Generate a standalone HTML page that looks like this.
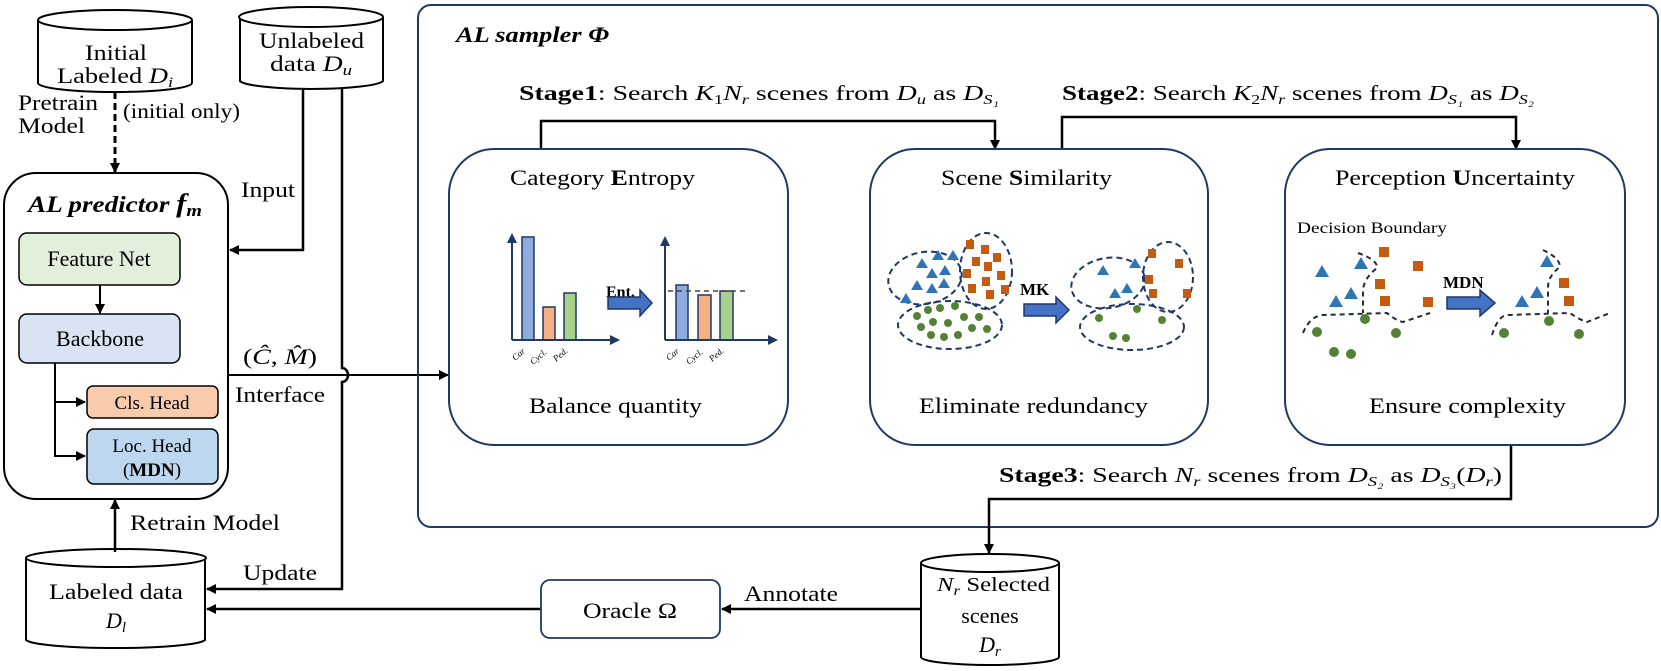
<!DOCTYPE html>
<html><head><meta charset="utf-8"><style>
html,body{margin:0;padding:0;background:#fff}
svg{display:block}
text{font-family:"Liberation Serif",serif;fill:#000}
</style></head><body>
<svg width="1661" height="671" viewBox="0 0 1661 671" xmlns="http://www.w3.org/2000/svg">
<defs>
<marker id="ah" markerWidth="10" markerHeight="10" refX="9" refY="5" orient="auto" markerUnits="userSpaceOnUse"><path d="M0,0 L10,5 L0,10 z" fill="#000"/></marker>
<marker id="nav" markerWidth="10" markerHeight="10" refX="5" refY="5" orient="auto" markerUnits="userSpaceOnUse"><path d="M0,0 L10,5 L0,10 z" fill="#1f3864"/></marker>
</defs>

<!-- Cylinders -->
<g fill="#fff" stroke="#000" stroke-width="2">
<path d="M38,20 L38,83 A77,9 0 0 0 192,83 L192,20"/><ellipse cx="115" cy="20" rx="77" ry="10"/>
<path d="M240,17 L240,81 A72,9 0 0 0 383,81 L383,17"/><ellipse cx="311" cy="17" rx="72" ry="10"/>
<path d="M26,558 L26,640 A90,9 0 0 0 205,640 L205,558"/><ellipse cx="116" cy="558" rx="90" ry="9"/>
<path d="M921,563 L921,657 A69,8 0 0 0 1059,657 L1059,563"/><ellipse cx="990" cy="563" rx="69" ry="9"/>
</g>
<text x="85" y="60" font-size="22" textLength="62" lengthAdjust="spacingAndGlyphs">Initial</text>
<text x="57" y="83" font-size="22" textLength="116" lengthAdjust="spacingAndGlyphs">Labeled <tspan font-style="italic">D</tspan><tspan font-style="italic" font-size="15" dy="4">i</tspan></text>
<text x="259" y="48" font-size="22" textLength="105" lengthAdjust="spacingAndGlyphs">Unlabeled</text>
<text x="270" y="71" font-size="22" textLength="82" lengthAdjust="spacingAndGlyphs">data <tspan font-style="italic">D</tspan><tspan font-style="italic" font-size="15" dy="4">u</tspan></text>
<text x="49" y="599" font-size="22" textLength="134" lengthAdjust="spacingAndGlyphs">Labeled data</text>
<text x="116" y="628" font-size="22" text-anchor="middle" font-style="italic">D<tspan font-size="15" dy="4">l</tspan></text>
<text x="937" y="591" font-size="20" textLength="113" lengthAdjust="spacingAndGlyphs"><tspan font-style="italic">N</tspan><tspan font-style="italic" font-size="14" dy="4">r</tspan><tspan dy="-4"> Selected</tspan></text>
<text x="990" y="623" font-size="22" text-anchor="middle">scenes</text>
<text x="990" y="652" font-size="22" text-anchor="middle" font-style="italic">D<tspan font-size="15" dy="4">r</tspan></text>

<!-- Pretrain -->
<text x="18" y="110" font-size="22" textLength="80" lengthAdjust="spacingAndGlyphs">Pretrain</text>
<text x="18" y="133" font-size="22" textLength="67" lengthAdjust="spacingAndGlyphs">Model</text>
<line x1="115" y1="92" x2="115" y2="172" stroke="#000" stroke-width="3" stroke-dasharray="7,4" marker-end="url(#ah)"/>
<text x="123" y="118" font-size="21" textLength="117" lengthAdjust="spacingAndGlyphs">(initial only)</text>

<!-- AL predictor -->
<rect x="4" y="173" width="224" height="326" rx="32" fill="#fff" stroke="#000" stroke-width="2"/>
<text x="28" y="212" font-size="23" font-weight="bold" font-style="italic" textLength="174" lengthAdjust="spacingAndGlyphs">AL predictor <tspan font-size="26">f</tspan><tspan font-size="17" dy="4">m</tspan></text>
<rect x="19" y="233" width="161" height="52" rx="8" fill="#e2efda" stroke="#000" stroke-width="1.5"/>
<text x="99" y="266" font-size="22" text-anchor="middle">Feature Net</text>
<line x1="100" y1="285" x2="100" y2="313" stroke="#000" stroke-width="2" marker-end="url(#ah)"/>
<rect x="19" y="314" width="161" height="49" rx="8" fill="#dae3f3" stroke="#000" stroke-width="1.5"/>
<text x="100" y="346" font-size="22" text-anchor="middle">Backbone</text>
<polyline points="55,363 55,456 85,456" fill="none" stroke="#000" stroke-width="2" marker-end="url(#ah)"/>
<line x1="55" y1="402" x2="85" y2="402" stroke="#000" stroke-width="2" marker-end="url(#ah)"/>
<rect x="87" y="386" width="131" height="32" rx="6" fill="#f8cbad" stroke="#000" stroke-width="1.5"/>
<text x="152" y="409" font-size="19" text-anchor="middle">Cls. Head</text>
<rect x="87" y="429" width="131" height="55" rx="7" fill="#bdd7ee" stroke="#000" stroke-width="1.5"/>
<text x="152" y="452" font-size="19" text-anchor="middle">Loc. Head</text>
<text x="152" y="476" font-size="19" text-anchor="middle">(<tspan font-weight="bold">MDN</tspan>)</text>

<!-- Input / update lines -->
<polyline points="303,89 303,250 230,250" fill="none" stroke="#000" stroke-width="2.5" marker-end="url(#ah)"/>
<text x="241" y="197" font-size="22" textLength="54" lengthAdjust="spacingAndGlyphs">Input</text>
<path d="M342,89 L342,368 A6,7 0 0 1 342,382 L342,589 L207,589" fill="none" stroke="#000" stroke-width="2.5" marker-end="url(#ah)"/>
<text x="243" y="580" font-size="22" textLength="74" lengthAdjust="spacingAndGlyphs">Update</text>
<line x1="228" y1="375" x2="448" y2="375" stroke="#000" stroke-width="2" marker-end="url(#ah)"/>
<text x="243" y="364" font-size="22" textLength="74" lengthAdjust="spacingAndGlyphs">(<tspan font-style="italic">Ĉ</tspan>, <tspan font-style="italic">M̂</tspan>)</text>
<text x="235" y="402" font-size="22" textLength="90" lengthAdjust="spacingAndGlyphs">Interface</text>
<line x1="115" y1="552" x2="115" y2="500" stroke="#000" stroke-width="2.5" marker-end="url(#ah)"/>
<text x="130" y="530" font-size="22" textLength="150" lengthAdjust="spacingAndGlyphs">Retrain Model</text>

<!-- bottom -->
<line x1="541" y1="609" x2="207" y2="609" stroke="#000" stroke-width="2.5" marker-end="url(#ah)"/>
<rect x="541" y="580" width="179" height="58" rx="9" fill="#fff" stroke="#1f3864" stroke-width="1.8"/>
<text x="583" y="618" font-size="22" textLength="94" lengthAdjust="spacingAndGlyphs">Oracle Ω</text>
<line x1="921" y1="609" x2="722" y2="609" stroke="#000" stroke-width="2.5" marker-end="url(#ah)"/>
<text x="744" y="601" font-size="22" textLength="94" lengthAdjust="spacingAndGlyphs">Annotate</text>

<!-- AL sampler -->
<rect x="418" y="5" width="1240" height="522" rx="13" fill="none" stroke="#1f3864" stroke-width="2"/>
<text x="456" y="42" font-size="22" font-weight="bold" font-style="italic" textLength="153" lengthAdjust="spacingAndGlyphs">AL sampler Φ</text>
<text x="519" y="100" font-size="21" textLength="480" lengthAdjust="spacingAndGlyphs"><tspan font-weight="bold">Stage1</tspan>: Search <tspan font-style="italic">K</tspan><tspan font-size="14" dy="4">1</tspan><tspan font-style="italic" dy="-4">N</tspan><tspan font-style="italic" font-size="14" dy="4">r</tspan><tspan dy="-4"> scenes from </tspan><tspan font-style="italic">D</tspan><tspan font-style="italic" font-size="14" dy="4">u</tspan><tspan dy="-4"> as </tspan><tspan font-style="italic">D</tspan><tspan font-style="italic" font-size="14" dy="4">S₁</tspan></text>
<text x="1062" y="100" font-size="21" textLength="472" lengthAdjust="spacingAndGlyphs"><tspan font-weight="bold">Stage2</tspan>: Search <tspan font-style="italic">K</tspan><tspan font-size="14" dy="4">2</tspan><tspan font-style="italic" dy="-4">N</tspan><tspan font-style="italic" font-size="14" dy="4">r</tspan><tspan dy="-4"> scenes from </tspan><tspan font-style="italic">D</tspan><tspan font-style="italic" font-size="14" dy="4">S₁</tspan><tspan dy="-4"> as </tspan><tspan font-style="italic">D</tspan><tspan font-style="italic" font-size="14" dy="4">S₂</tspan></text>
<polyline points="541,150 541,121 995,121 995,149" fill="none" stroke="#000" stroke-width="2.5" marker-end="url(#ah)"/>
<polyline points="1062,150 1062,117 1516,117 1516,149" fill="none" stroke="#000" stroke-width="2.5" marker-end="url(#ah)"/>
<text x="999" y="482" font-size="21" textLength="503" lengthAdjust="spacingAndGlyphs"><tspan font-weight="bold">Stage3</tspan>: Search <tspan font-style="italic">N</tspan><tspan font-style="italic" font-size="14" dy="4">r</tspan><tspan dy="-4"> scenes from </tspan><tspan font-style="italic">D</tspan><tspan font-style="italic" font-size="14" dy="4">S₂</tspan><tspan dy="-4"> as  </tspan><tspan font-style="italic">D</tspan><tspan font-style="italic" font-size="14" dy="4">S₃</tspan><tspan dy="-4">(</tspan><tspan font-style="italic">D</tspan><tspan font-style="italic" font-size="14" dy="4">r</tspan><tspan dy="-4">)</tspan></text>
<polyline points="1511,445 1511,499 989,499 989,553" fill="none" stroke="#000" stroke-width="2.5" marker-end="url(#ah)"/>

<g fill="#fff" stroke="#1f3864" stroke-width="2">
<rect x="449" y="149" width="339" height="296" rx="45"/>
<rect x="870" y="149" width="338" height="296" rx="45"/>
<rect x="1285" y="149" width="340" height="296" rx="45"/>
</g>
<text x="510" y="185" font-size="22" textLength="185" lengthAdjust="spacingAndGlyphs">Category <tspan font-weight="bold">E</tspan>ntropy</text>
<text x="529" y="413" font-size="22" textLength="173" lengthAdjust="spacingAndGlyphs">Balance quantity</text>
<text x="941" y="185" font-size="22" textLength="171" lengthAdjust="spacingAndGlyphs">Scene <tspan font-weight="bold">S</tspan>imilarity</text>
<text x="919" y="413" font-size="22" textLength="229" lengthAdjust="spacingAndGlyphs">Eliminate redundancy</text>
<text x="1335" y="185" font-size="22" textLength="240" lengthAdjust="spacingAndGlyphs">Perception <tspan font-weight="bold">U</tspan>ncertainty</text>
<text x="1369" y="413" font-size="22" textLength="197" lengthAdjust="spacingAndGlyphs">Ensure complexity</text>

<!-- chart 1 -->
<g stroke="#1f3864" stroke-width="1.5">
<rect x="522" y="237" width="12" height="103" fill="#8faadc"/>
<rect x="543" y="307" width="12" height="33" fill="#f4b183"/>
<rect x="564" y="293" width="12" height="47" fill="#a9d18e"/>
<rect x="676" y="285" width="12" height="55" fill="#8faadc"/>
<rect x="698" y="295" width="13" height="45" fill="#f4b183"/>
<rect x="720" y="291" width="13" height="49" fill="#a9d18e"/>
</g>
<g stroke="#1f3864" stroke-width="2" fill="none">
<polyline points="512,340 615,340" marker-end="url(#nav)"/>
<line x1="512" y1="340" x2="512" y2="238" marker-end="url(#nav)"/>
<polyline points="665,340 773,340" marker-end="url(#nav)"/>
<line x1="665" y1="340" x2="665" y2="241" marker-end="url(#nav)"/>
</g>
<line x1="668" y1="291" x2="747" y2="291" stroke="#444" stroke-width="1.5" stroke-dasharray="5,4"/>
<g font-size="9" font-style="italic">
<text transform="translate(515,361) rotate(-40)">Car</text>
<text transform="translate(533,365) rotate(-40)">Cycl.</text>
<text transform="translate(556,362) rotate(-40)">Ped.</text>
<text transform="translate(669,361) rotate(-40)">Car</text>
<text transform="translate(689,365) rotate(-40)">Cycl.</text>
<text transform="translate(712,362) rotate(-40)">Ped.</text>
</g>
<text x="606" y="297" font-size="16" font-weight="bold">Ent.</text>
<path d="M608,297 L640,297 L640,290 L652,303 L640,316 L640,309 L608,309 z" fill="#4472c4" stroke="#1f3864" stroke-width="1.5"/>

<!-- scene similarity -->
<g fill="none" stroke="#1f3864" stroke-width="2" stroke-dasharray="6,4">
<ellipse cx="925" cy="278" rx="37" ry="26" transform="rotate(-10 925 278)"/>
<ellipse cx="986" cy="271" rx="26" ry="38"/>
<ellipse cx="950" cy="325" rx="52" ry="24"/>
<ellipse cx="1108" cy="283" rx="37" ry="25" transform="rotate(-10 1108 283)"/>
<ellipse cx="1168" cy="277" rx="25" ry="35"/>
<ellipse cx="1132" cy="327" rx="52" ry="23"/>
</g>
<g fill="#2e75b6">
<path d="M916,268 l6,-10 l6,10z M932,260 l6,-10 l6,10z M947,260 l6,-10 l6,10z M926,278 l6,-10 l6,10z M939,275 l6,-10 l6,10z M911,290 l6,-10 l6,10z M926,293 l6,-10 l6,10z M938,288 l6,-10 l6,10z M900,303 l6,-10 l6,10z"/>
<path d="M1097,275 l6,-10 l6,10z M1129,268 l6,-10 l6,10z M1109,298 l6,-10 l6,10z M1121,293 l6,-10 l6,10z"/>
</g>
<g fill="#c55a11">
<rect x="966" y="240" width="8" height="9"/><rect x="981" y="245" width="8" height="9"/><rect x="993" y="253" width="8" height="9"/><rect x="972" y="257" width="8" height="9"/><rect x="984" y="262" width="8" height="9"/><rect x="963" y="269" width="8" height="9"/><rect x="997" y="271" width="8" height="9"/><rect x="982" y="277" width="8" height="9"/><rect x="968" y="284" width="8" height="9"/><rect x="1001" y="285" width="8" height="9"/><rect x="986" y="290" width="8" height="9"/>
<rect x="1148" y="249" width="8" height="9"/><rect x="1175" y="259" width="8" height="9"/><rect x="1145" y="275" width="8" height="9"/><rect x="1149" y="289" width="8" height="9"/><rect x="1183" y="289" width="8" height="9"/>
</g>
<g fill="#548235">
<circle cx="917" cy="316" r="4"/><circle cx="928" cy="310" r="4"/><circle cx="940" cy="308" r="4"/><circle cx="955" cy="306" r="4"/><circle cx="921" cy="327" r="4"/><circle cx="933" cy="322" r="4"/><circle cx="948" cy="323" r="4"/><circle cx="964" cy="317" r="4"/><circle cx="979" cy="317" r="4"/><circle cx="931" cy="335" r="4"/><circle cx="944" cy="337" r="4"/><circle cx="958" cy="335" r="4"/><circle cx="972" cy="328" r="4"/><circle cx="987" cy="329" r="4"/>
<circle cx="1099" cy="318" r="4"/><circle cx="1137" cy="309" r="4"/><circle cx="1162" cy="320" r="4"/><circle cx="1113" cy="336" r="4"/><circle cx="1126" cy="338" r="4"/>
</g>
<text x="1020" y="295" font-size="17" font-weight="bold">MK</text>
<path d="M1024,304 L1056,304 L1056,297 L1069,310 L1056,323 L1056,316 L1024,316 z" fill="#4472c4" stroke="#1f3864" stroke-width="1.5"/>

<!-- perception uncertainty -->
<text x="1297" y="233" font-size="16" textLength="150" lengthAdjust="spacingAndGlyphs">Decision Boundary</text>
<g fill="none" stroke="#222b3a" stroke-width="2" stroke-dasharray="5,4">
<path d="M1358,253 Q1378,260 1377,268 Q1364,278 1363,290 L1363,313 M1303,333 Q1310,316 1323,315 L1387,313 Q1395,320 1403,322 L1430,313"/>
<path d="M1543,250 Q1560,258 1560,267 Q1548,276 1548,287 L1548,313 M1492,335 Q1498,316 1507,315 L1570,313 Q1580,320 1587,322 L1610,313"/>
</g>
<g fill="#2e75b6">
<path d="M1315,277 l7,-12 l7,12z M1354,269 l7,-12 l7,12z M1329,307 l7,-12 l7,12z M1344,299 l7,-12 l7,12z M1540,267 l7,-12 l7,12z M1515,307 l7,-12 l7,12z M1530,298 l7,-12 l7,12z"/>
</g>
<g fill="#c55a11">
<rect x="1379" y="247" width="10" height="10"/><rect x="1413" y="261" width="10" height="10"/><rect x="1375" y="279" width="10" height="10"/><rect x="1380" y="296" width="10" height="10"/><rect x="1423" y="297" width="10" height="10"/>
<rect x="1559" y="278" width="10" height="10"/><rect x="1564" y="296" width="10" height="10"/>
</g>
<g fill="#548235">
<circle cx="1317" cy="332" r="5"/><circle cx="1365" cy="319" r="5"/><circle cx="1396" cy="333" r="5"/><circle cx="1334" cy="352" r="5"/><circle cx="1351" cy="354" r="5"/>
<circle cx="1504" cy="333" r="5"/><circle cx="1549" cy="321" r="5"/><circle cx="1579" cy="334" r="5"/>
</g>
<text x="1443" y="288" font-size="17" font-weight="bold">MDN</text>
<path d="M1447,297 L1480,297 L1480,290 L1495,303 L1480,316 L1480,309 L1447,309 z" fill="#4472c4" stroke="#1f3864" stroke-width="1.5"/>
</svg>
</body></html>
